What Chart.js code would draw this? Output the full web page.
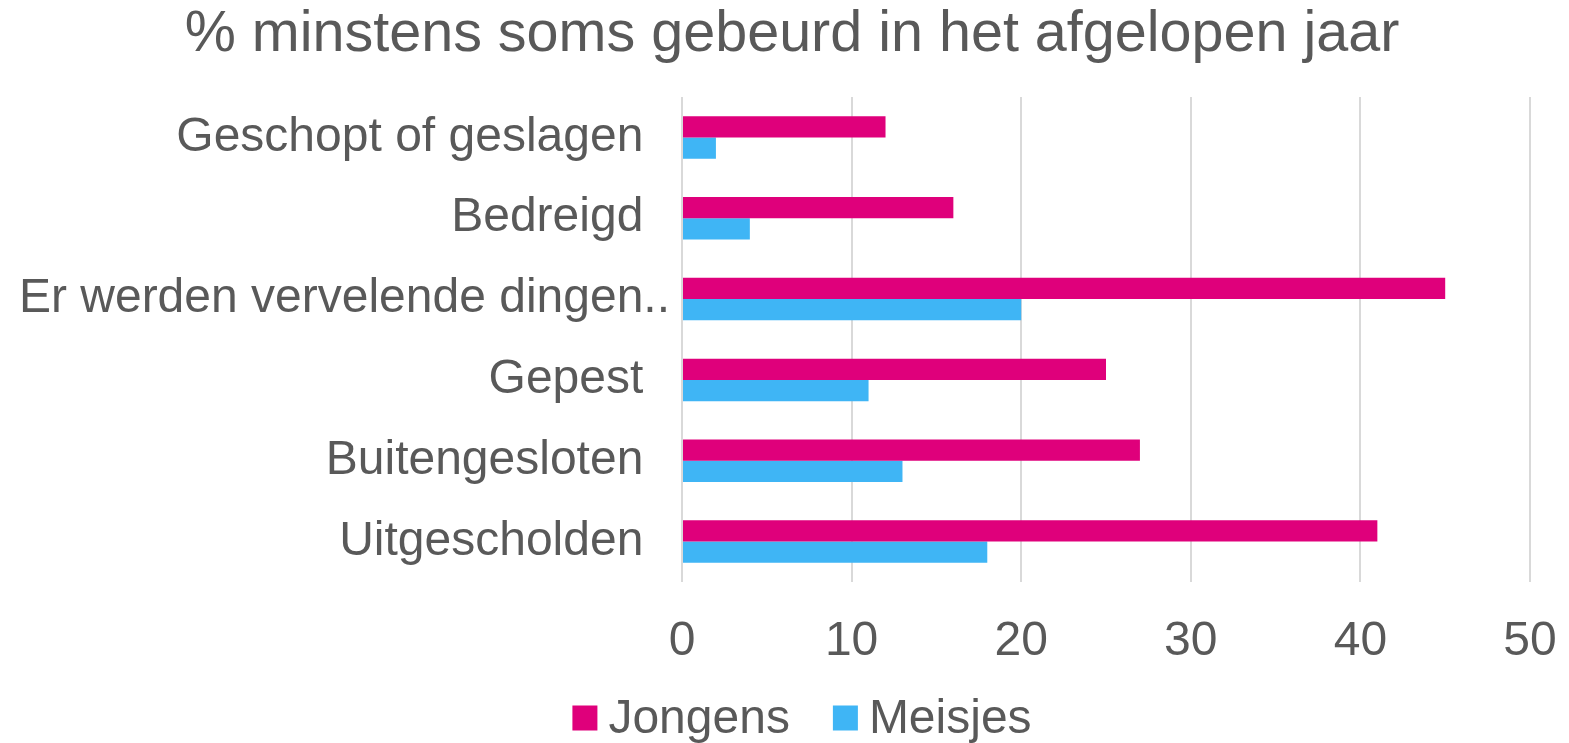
<!DOCTYPE html>
<html>
<head>
<meta charset="utf-8">
<script src="https://cdn.jsdelivr.net/npm/chart.js@4/dist/chart.umd.min.js"></script>
<style>
html,body{margin:0;padding:0;background:#fff;}
#wrap{width:1569px;height:743px;position:relative;}
</style>
</head>
<body>
<div id="wrap"><canvas id="c" width="1569" height="743"></canvas></div>
<script>
const categories = ["Geschopt of geslagen  ", "Bedreigd  ", "Er werden vervelende dingen..", "Gepest  ", "Buitengesloten  ", "Uitgescholden  "];
const jongens = [12, 16, 45, 25, 27, 41];
const meisjes = [2, 4, 20, 11, 13, 18];
const seriesNames = ["Jongens", "Meisjes"];
const seriesColors = ["#DF007B", "#3FB5F5"];
const xTicks = [0, 10, 20, 30, 40, 50];
const titleText = "% minstens soms gebeurd in het afgelopen jaar";

const FONT = "'Liberation Sans', Arial, sans-serif";
const TXT = "#595959";

// Legend drawn from the chart's datasets (Excel-style spacing)
const legendPlugin = {
  id: 'xlLegend',
  afterLayout(chart) {
    const t = chart.titleBlock;
    if (t) { t.left = 15; t.right = 1569; t.width = t.right - t.left; }
  },
  afterDraw(chart) {
    const ctx = chart.ctx;
    const ds = chart.data.datasets;
    ctx.save();
    ctx.font = "48px " + FONT;
    ctx.textBaseline = 'middle';
    ctx.textAlign = 'left';
    const box = 25, gapBoxText = 11, gapItems = 43;
    let total = 0;
    ds.forEach((d, i) => {
      total += box + gapBoxText + ctx.measureText(d.label).width;
      if (i < ds.length - 1) total += gapItems;
    });
    let x = 802 - total / 2;
    const cy = 718;
    ds.forEach((d) => {
      ctx.fillStyle = d.backgroundColor;
      ctx.fillRect(x, cy - box / 2, box, box);
      x += box + gapBoxText;
      ctx.fillStyle = TXT;
      ctx.fillText(d.label, x, cy + 2);
      x += ctx.measureText(d.label).width + gapItems;
    });
    ctx.restore();
  }
};

new Chart(document.getElementById('c'), {
  type: 'bar',
  data: {
    labels: categories,
    datasets: seriesNames.map((name, i) => ({
      label: name,
      data: i === 0 ? jongens : meisjes,
      backgroundColor: seriesColors[i],
      borderWidth: 0,
      categoryPercentage: 0.526,
      barPercentage: 1
    }))
  },
  plugins: [legendPlugin],
  options: {
    indexAxis: 'y',
    responsive: false,
    animation: false,
    devicePixelRatio: 1,
    layout: {padding: {left: 0, right: 39, top: 0, bottom: 53}},
    plugins: {
      title: {
        display: true, text: titleText, color: TXT,
        font: {family: FONT, size: 57.5, weight: 'normal'},
        padding: {top: 1, bottom: 27}
      },
      legend: {display: false},
      tooltip: {enabled: false}
    },
    scales: {
      x: {
        min: 0, max: 50,
        afterBuildTicks: (s) => { s.ticks = xTicks.map(v => ({value: v})); },
        afterFit: (s) => { s.height = 108; s.paddingRight = 0; s.paddingLeft = 0; },
        grid: {color: '#d9d9d9', lineWidth: 2, drawTicks: false},
        border: {display: false},
        ticks: {color: TXT, font: {family: FONT, size: 48}, padding: 31, maxRotation: 0},
      },
      y: {
        afterFit: (s) => { s.width = 682; },
        grid: {display: false},
        border: {display: false},
        ticks: {color: TXT, font: {family: FONT, size: 48}, padding: 4, autoSkip: false}
      }
    }
  }
});
</script>
</body>
</html>
